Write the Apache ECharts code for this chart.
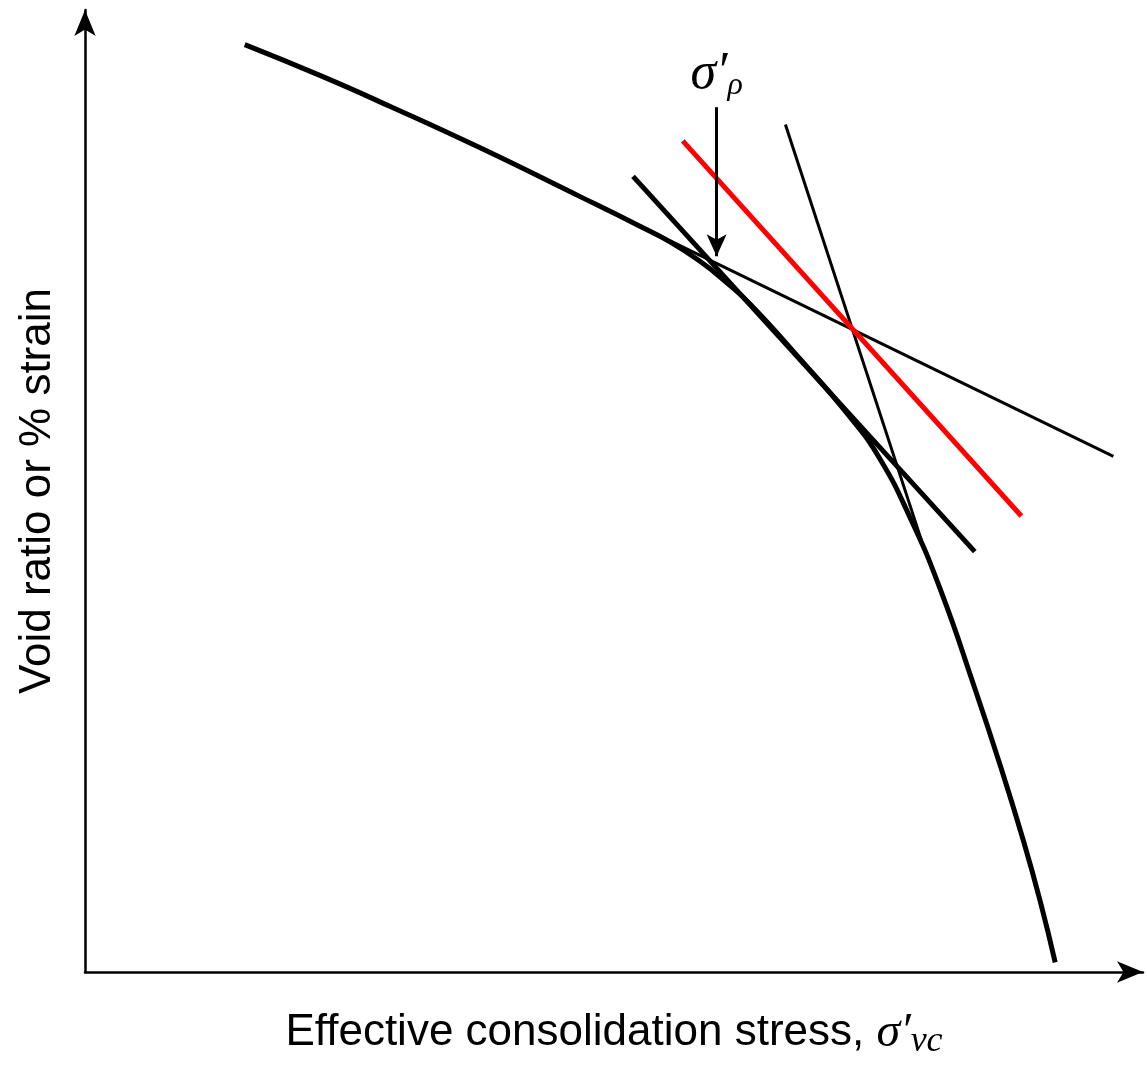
<!DOCTYPE html>
<html>
<head>
<meta charset="utf-8">
<script src="https://cdn.jsdelivr.net/npm/echarts@6/dist/echarts.min.js"></script>
<style>
  html, body { margin: 0; padding: 0; background: #fff; }
  #chart { width: 1147px; height: 1065px; }
</style>
</head>
<body>
<div id="chart"></div>
<script>
// consolidation curve (stress, void ratio), arbitrary units
const curveX = [15.1, 22.2, 28.8, 37.3, 46.8, 52.5, 55.3, 58.1, 60.5, 62.9, 67.6, 72.3, 75.1, 78.0, 80.8, 84.1, 86.5, 88.6, 90.3, 91.7];
const curveY = [96.4, 93.2, 90.0, 85.7, 80.6, 77.5, 75.9, 73.9, 71.8, 69.4, 63.7, 57.7, 53.4, 47.2, 39.9, 29.5, 21.5, 14.0, 7.3, 1.0];

// construction lines: [x0, y0, x1, y1]
const tangentLine = [51.8, 82.7, 84.1, 43.7];
const shallowLine = [52.5, 77.5, 97.2, 53.6];
const steepLine = [66.2, 88.1, 79.2, 44.4];
const redLine = [56.5, 86.4, 88.5, 47.4];

// arrow marking sigma'_p
const arrowX = 59.7;
const arrowTop = 89.9;
const arrowTip = 74.4;

const xName = 'Effective consolidation stress, ';
const yName = 'Void ratio or % strain';

const chart = echarts.init(document.getElementById('chart'));

function seg(a) {
    return [[a[0], a[1]], [a[2], a[3]]];
}

function lineSeries(a, color, width) {
    return {
        type: 'line',
        data: seg(a),
        symbol: 'none',
        silent: true,
        lineStyle: {color: color, width: width, cap: 'butt'}
    };
}

const curveData = curveX.map((x, i) => [x, curveY[i]]);

const option = {
    animation: false,
    backgroundColor: '#fff',
    grid: {left: 85, right: 4, top: 10, bottom: 90},
    xAxis: {
        type: 'value',
        min: 0,
        max: 100,
        name: '{t|' + xName + '}{s|σ′}{sub|vc}',
        nameLocation: 'middle',
        nameGap: 34,
        nameTextStyle: {
            rich: {
                t: {fontFamily: 'Liberation Sans', fontSize: 44, color: '#000'},
                s: {fontFamily: 'Liberation Serif', fontStyle: 'italic', fontSize: 48, color: '#000'},
                sub: {fontFamily: 'Liberation Serif', fontStyle: 'italic', fontSize: 36, color: '#000', padding: [18, 0, 0, 0]}
            }
        },
        axisLine: {
            show: true,
            symbol: ['none', 'arrow'],
            symbolSize: [16, 26],
            lineStyle: {color: '#000', width: 2.5}
        },
        axisTick: {show: false},
        axisLabel: {show: false},
        splitLine: {show: false}
    },
    yAxis: {
        type: 'value',
        min: 0,
        max: 100,
        name: yName,
        nameLocation: 'middle',
        nameGap: 25,
        nameTextStyle: {fontFamily: 'Liberation Sans', fontSize: 44, color: '#000'},
        axisLine: {
            show: true,
            symbol: ['none', 'arrow'],
            symbolSize: [16, 26],
            lineStyle: {color: '#000', width: 2.5}
        },
        axisTick: {show: false},
        axisLabel: {show: false},
        splitLine: {show: false}
    },
    series: [
        {
            type: 'line',
            data: curveData,
            symbol: 'none',
            smooth: 0.5,
            silent: true,
            lineStyle: {color: '#000', width: 5}
        },
        lineSeries(tangentLine, '#000', 5),
        lineSeries(shallowLine, '#000', 3),
        lineSeries(steepLine, '#000', 3),
        lineSeries(redLine, '#ff0000', 5),
        {
            type: 'line',
            data: [],
            silent: true,
            markLine: {
                silent: true,
                symbol: ['none', 'arrow'],
                symbolSize: [15, 22],
                lineStyle: {color: '#000', width: 3, type: 'solid'},
                label: {
                    show: true,
                    position: 'start',
                    distance: 6,
                    formatter: '{s|σ′}{sub|ρ}',
                    rich: {
                        s: {fontFamily: 'Liberation Serif', fontStyle: 'italic', fontSize: 52, color: '#000'},
                        sub: {fontFamily: 'Liberation Serif', fontStyle: 'italic', fontSize: 32, color: '#000', padding: [22, 0, 0, 0]}
                    }
                },
                emphasis: {disabled: true},
                data: [[{coord: [arrowX, arrowTop]}, {coord: [arrowX, arrowTip]}]]
            }
        }
    ]
};

chart.setOption(option);
</script>
</body>
</html>
